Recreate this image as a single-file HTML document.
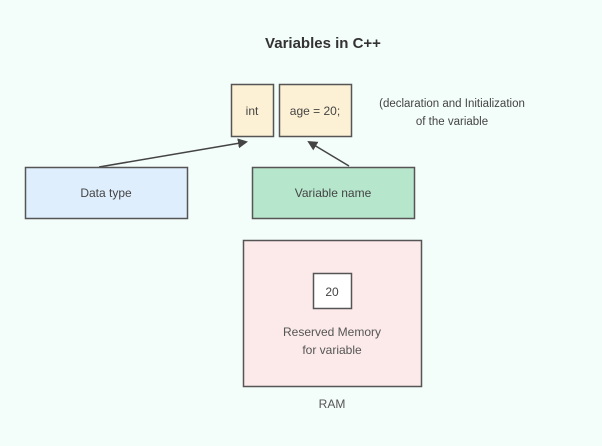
<!DOCTYPE html>
<html><head><meta charset="utf-8"><style>
body{margin:0;width:602px;height:441px;background:#f3fdfa;overflow:hidden;font-family:"Liberation Sans",sans-serif;}
</style></head><body>
<svg width="602" height="441" xmlns="http://www.w3.org/2000/svg" font-family="Liberation Sans, sans-serif">
<defs><marker id="a" markerWidth="10" markerHeight="10" refX="8" refY="5" orient="auto" markerUnits="userSpaceOnUse"><path d="M0,0 L10,5 L0,10 z" fill="#444"/></marker></defs>
<text x="323" y="48" text-anchor="middle" font-size="15" font-weight="bold" fill="#333">Variables in C++</text>
<rect x="231.5" y="84.5" width="42" height="52" fill="#fdf1d5" stroke="#555" stroke-width="1.5"/>
<text x="252" y="115" text-anchor="middle" font-size="12" fill="#444">int</text>
<rect x="279.5" y="84.5" width="72" height="52" fill="#fdf1d5" stroke="#555" stroke-width="1.5"/>
<text x="315" y="115" text-anchor="middle" font-size="12" fill="#444">age = 20;</text>
<text x="452" y="107" text-anchor="middle" font-size="11.5" fill="#444">(declaration and Initialization</text>
<text x="452" y="125" text-anchor="middle" font-size="11.5" fill="#444">of the variable</text>
<line x1="99" y1="167" x2="246" y2="142" stroke="#444" stroke-width="1.5" marker-end="url(#a)"/>
<line x1="349" y1="166" x2="309" y2="142" stroke="#444" stroke-width="1.5" marker-end="url(#a)"/>
<rect x="25.5" y="167.5" width="162" height="51" fill="#dfeefd" stroke="#555" stroke-width="1.5"/>
<text x="106" y="197" text-anchor="middle" font-size="12" fill="#444">Data type</text>
<rect x="252.5" y="167.5" width="162" height="51" fill="#b6e6cc" stroke="#555" stroke-width="1.5"/>
<text x="333" y="197" text-anchor="middle" font-size="12" fill="#444">Variable name</text>
<rect x="243.5" y="240.5" width="178" height="146" fill="#fceaea" stroke="#555" stroke-width="1.5"/>
<rect x="313.5" y="273.5" width="38" height="35" fill="#fff" stroke="#555" stroke-width="1.5"/>
<text x="332" y="296" text-anchor="middle" font-size="12" fill="#444">20</text>
<text x="332" y="336" text-anchor="middle" font-size="12" fill="#555">Reserved Memory</text>
<text x="332" y="354" text-anchor="middle" font-size="12" fill="#555">for variable</text>
<text x="332" y="408" text-anchor="middle" font-size="12" fill="#555">RAM</text>
</svg>
</body></html>
